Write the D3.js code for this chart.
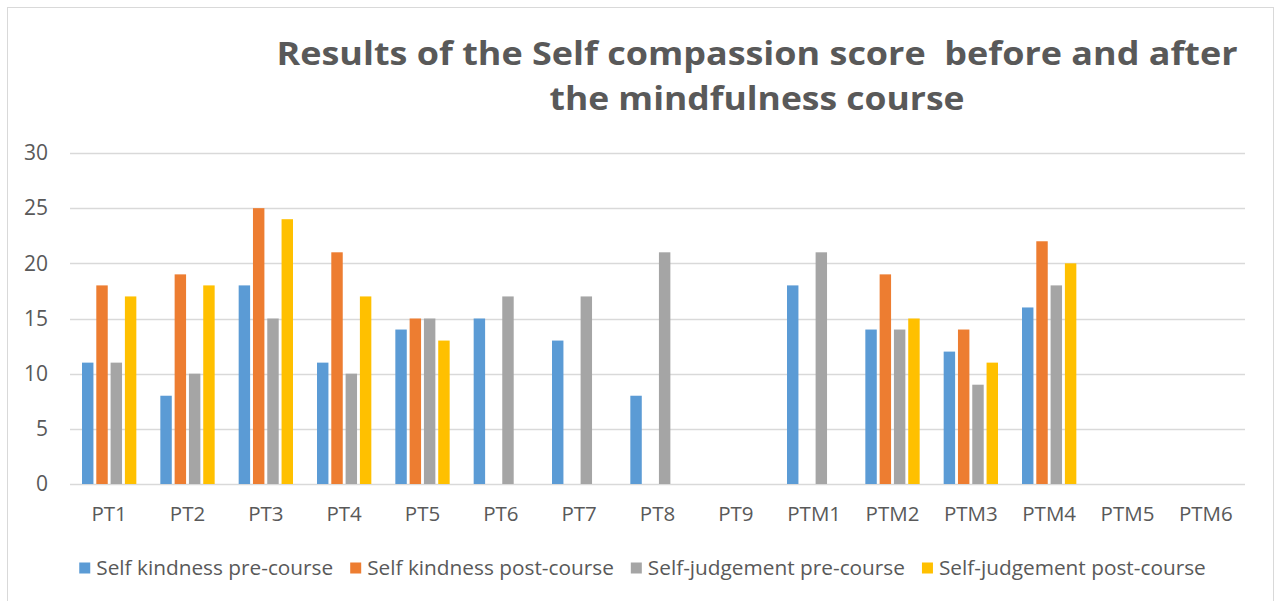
<!DOCTYPE html>
<html>
<head>
<meta charset="utf-8">
<script src="https://d3js.org/d3.v7.min.js"></script>
<style>
  body { margin: 0; background: #fff; }
  text { font-family: "Open Sans", "Noto Sans", sans-serif; fill: #595959; }
</style>
</head>
<body>
<div id="chart"></div>
<script>
// Categories (participants)
var categories = ["PT1", "PT2", "PT3", "PT4", "PT5", "PT6", "PT7", "PT8", "PT9",
                  "PTM1", "PTM2", "PTM3", "PTM4", "PTM5", "PTM6"];

// Series values (null = no bar)
var kindnessPre   = [11, 8, 18, 11, 14, 15, 13, 8, null, 18, 14, 12, 16, null, null];
var kindnessPost  = [18, 19, 25, 21, 15, null, null, null, null, null, 19, 14, 22, null, null];
var judgementPre  = [11, 10, 15, 10, 15, 17, 17, 21, null, 21, 14, 9, 18, null, null];
var judgementPost = [17, 18, 24, 17, 13, null, null, null, null, null, 15, 11, 20, null, null];

var seriesNames = ["Self kindness pre-course", "Self kindness post-course",
                   "Self-judgement pre-course", "Self-judgement post-course"];
var seriesColors = ["#5B9BD5", "#ED7D31", "#A5A5A5", "#FFC000"];
var yTicks = [0, 5, 10, 15, 20, 25, 30];

var titleLines = ["Results of the Self compassion score  before and after",
                  "the mindfulness course"];
var titleWidths = [961, 415];

var allSeries = [kindnessPre, kindnessPost, judgementPre, judgementPost];

var W = 1277, H = 601;
var plot = {left: 70, right: 1245, top: 153, bottom: 484};

var svg = d3.select("#chart")
            .append("svg")
            .attr("width", W)
            .attr("height", H);

// Outer chart border
svg.append("rect")
   .attr("x", 7.5)
   .attr("y", 7.5)
   .attr("width", 1266)
   .attr("height", 620)
   .attr("fill", "none")
   .attr("stroke", "#d9d9d9")
   .attr("stroke-width", 1);

// Title (two lines, stretched to the reference width)
svg.append("g")
   .selectAll("text")
   .data(titleLines)
   .enter()
   .append("text")
   .attr("x", 757)
   .attr("y", function(d, i) { return 65 + i * 45; })
   .attr("text-anchor", "middle")
   .attr("xml:space", "preserve")
   .attr("textLength", function(d, i) { return titleWidths[i]; })
   .attr("lengthAdjust", "spacingAndGlyphs")
   .style("white-space", "pre")
   .style("font-size", "33px")
   .style("font-weight", "bold")
   .text(function(d) { return d; });

// Scales
var x0 = d3.scaleBand()
           .domain(categories)
           .range([plot.left, plot.right])
           .padding(0);

var x1 = d3.scaleBand()
           .domain(d3.range(allSeries.length))
           .range([12, x0.bandwidth() - 12])
           .paddingInner(0.2)
           .paddingOuter(0);

var y = d3.scaleLinear()
          .domain([0, 30])
          .range([plot.bottom, plot.top]);

// Gridlines
svg.append("g")
   .selectAll("line")
   .data(yTicks)
   .enter()
   .append("line")
   .attr("x1", plot.left)
   .attr("x2", plot.right)
   .attr("y1", function(d) { return Math.round(y(d)) + 0.5; })
   .attr("y2", function(d) { return Math.round(y(d)) + 0.5; })
   .attr("stroke", "#d9d9d9")
   .attr("stroke-width", 1.3);

// Y axis labels
var yAxis = svg.append("g")
   .attr("transform", "translate(" + plot.left + ",0)")
   .call(d3.axisLeft(y).tickValues(yTicks).tickSize(0).tickPadding(22));
yAxis.select(".domain").remove();
yAxis.selectAll("text")
     .style("font-size", "21px")
     .style("font-family", "\"Open Sans\", sans-serif")
     .attr("fill", "#595959");

// X axis labels
var xAxis = svg.append("g")
   .attr("transform", "translate(0," + plot.bottom + ")")
   .call(d3.axisBottom(x0).tickSize(0).tickPadding(22));
xAxis.select(".domain").remove();
xAxis.selectAll("text")
     .style("font-size", "20.5px")
     .style("font-family", "\"Open Sans\", sans-serif")
     .attr("fill", "#595959");

// Bars
var groups = svg.append("g")
   .selectAll("g")
   .data(categories)
   .enter()
   .append("g")
   .attr("transform", function(d) { return "translate(" + x0(d) + ",0)"; });

groups.selectAll("rect")
   .data(function(d, i) {
       return allSeries.map(function(s, k) { return {k: k, v: s[i]}; })
                       .filter(function(e) { return e.v != null; });
   })
   .enter()
   .append("rect")
   .attr("x", function(d) { return x1(d.k); })
   .attr("y", function(d) { return y(d.v); })
   .attr("width", x1.bandwidth())
   .attr("height", function(d) { return y(0) - y(d.v); })
   .attr("fill", function(d) { return seriesColors[d.k]; });

// Legend
var legend = svg.append("g")
   .attr("transform", "translate(0,568)");

var items = legend.selectAll("g")
   .data(seriesNames)
   .enter()
   .append("g");

items.append("rect")
   .attr("width", 11)
   .attr("height", 11)
   .attr("y", -5.5)
   .attr("fill", function(d, i) { return seriesColors[i]; });

items.append("text")
   .attr("x", 17)
   .attr("dy", "0.35em")
   .style("font-size", "20.8px")
   .text(function(d) { return d; });

// place items side by side, centred
var gap = 17, pos = [], total = 0;
items.each(function() {
    var w = this.getBBox().width;
    pos.push(total);
    total += w + gap;
});
total -= gap;
var startX = 642.5 - total / 2;
items.attr("transform", function(d, i) { return "translate(" + (startX + pos[i]) + ",0)"; });
</script>
</body>
</html>
